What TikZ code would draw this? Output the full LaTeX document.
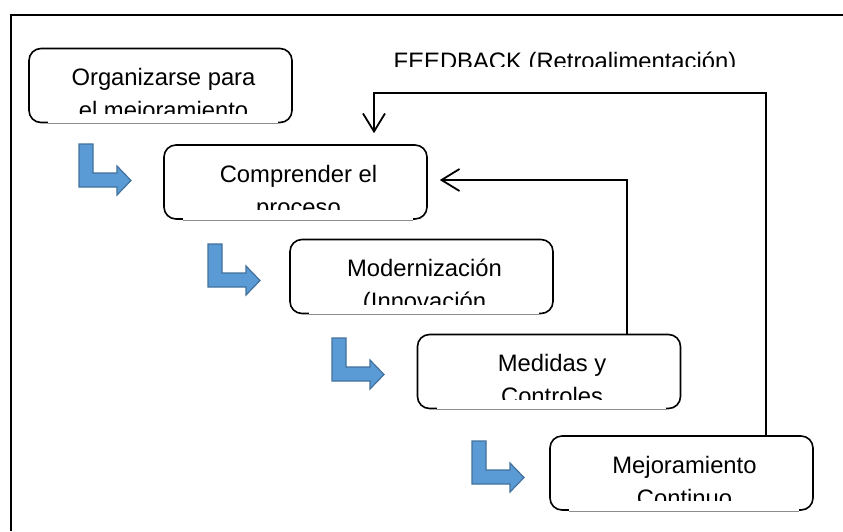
\documentclass[tikz,border=0pt]{standalone}
\usepackage{fontspec}
\setmainfont{Liberation Sans}
\usetikzlibrary{arrows.meta,calc}

\definecolor{stepfill}{RGB}{91,155,213}
\definecolor{stepline}{RGB}{65,113,156}

\tikzset{
  stagebox/.style={draw=black, line width=1.6pt, rounded corners=12pt,
    minimum width=263pt, minimum height=74pt, inner sep=0pt},
  label/.style={font=\fontsize{23.8}{33}\selectfont, inner sep=0pt, anchor=base},
  loopline/.style={line width=1.8pt, -{Straight Barb[length=18pt,width=22pt]}},
  larrow/.pic={
    \filldraw[fill=stepfill, draw=stepline, line width=1.2pt]
      (0,0) -- (14,0) -- (14,29) -- (38,29) -- (38,22) -- (52,36.5)
      -- (38,51) -- (38,43) -- (0,43) -- cycle;
  }
}

% one rounded stage box: name, centre, first line, second line
\newcommand{\stagebox}[4]{%
  \node[stagebox] (#1) at (#2) {};
  % the inner text area sits over part of the lower border
  \fill[white] ([xshift=20pt,yshift=10pt]#1.south west)
    rectangle ([xshift=-15pt,yshift=-0.9pt]#1.south east);
  \draw[black!45, line width=0.9pt] ([xshift=20pt,yshift=-0.4pt]#1.south west)
    -- ([xshift=-15pt,yshift=-0.4pt]#1.south east);
  \begin{scope}
    \clip (#1.north west) rectangle ([yshift=10pt]#1.south east);
    \node[label] (#1-a) at ($(#1.north)+(3,38)$) {#3};
    \node[label] (#1-b) at ($(#1.north)+(3,71)$) {#4};
  \end{scope}
}

\begin{document}
\begin{tikzpicture}[x=1pt, y=-1pt]
  \useasboundingbox (0,0) rectangle (843,531);
  \fill[white] (0,0) rectangle (843,531);

  % frame
  \draw[line width=2.4pt] (11,531) -- (11,15) -- (843,15);

  % stages
  \stagebox{b1}{160.5,85.5}{Organizarse para}{el mejoramiento}
  \stagebox{b2}{295.5,182}{Comprender el}{proceso}
  \stagebox{b3}{421.5,276.5}{Modernización}{(Innovación}
  \stagebox{b4}{549,371.5}{Medidas y}{Controles}
  \stagebox{b5}{681.5,473}{Mejoramiento}{Continuo}

  % step arrows
  \pic at (79,144) {larrow};
  \pic at (208,244) {larrow};
  \pic at (332,338) {larrow};
  \pic at (472,441) {larrow};

  % feedback loops
  \coordinate (c1) at (627,180);
  \coordinate (c2) at (766,93);
  \coordinate (c3) at (374,93);
  \draw[loopline, shorten >=12pt] (b4.north -| c1) -- (c1) -- (b2.east |- c1);
  \draw[loopline, shorten >=11pt] (b5.north -| c2) -- (c2) -- (c3) -- (b2.north -| c3);

  % loop caption
  \begin{scope}
    \clip (370,30) rectangle (770,66.5);
    \node[label] (fb) at (565,69) {FEEDBACK (Retroalimentación)};
  \end{scope}
\end{tikzpicture}
\end{document}
